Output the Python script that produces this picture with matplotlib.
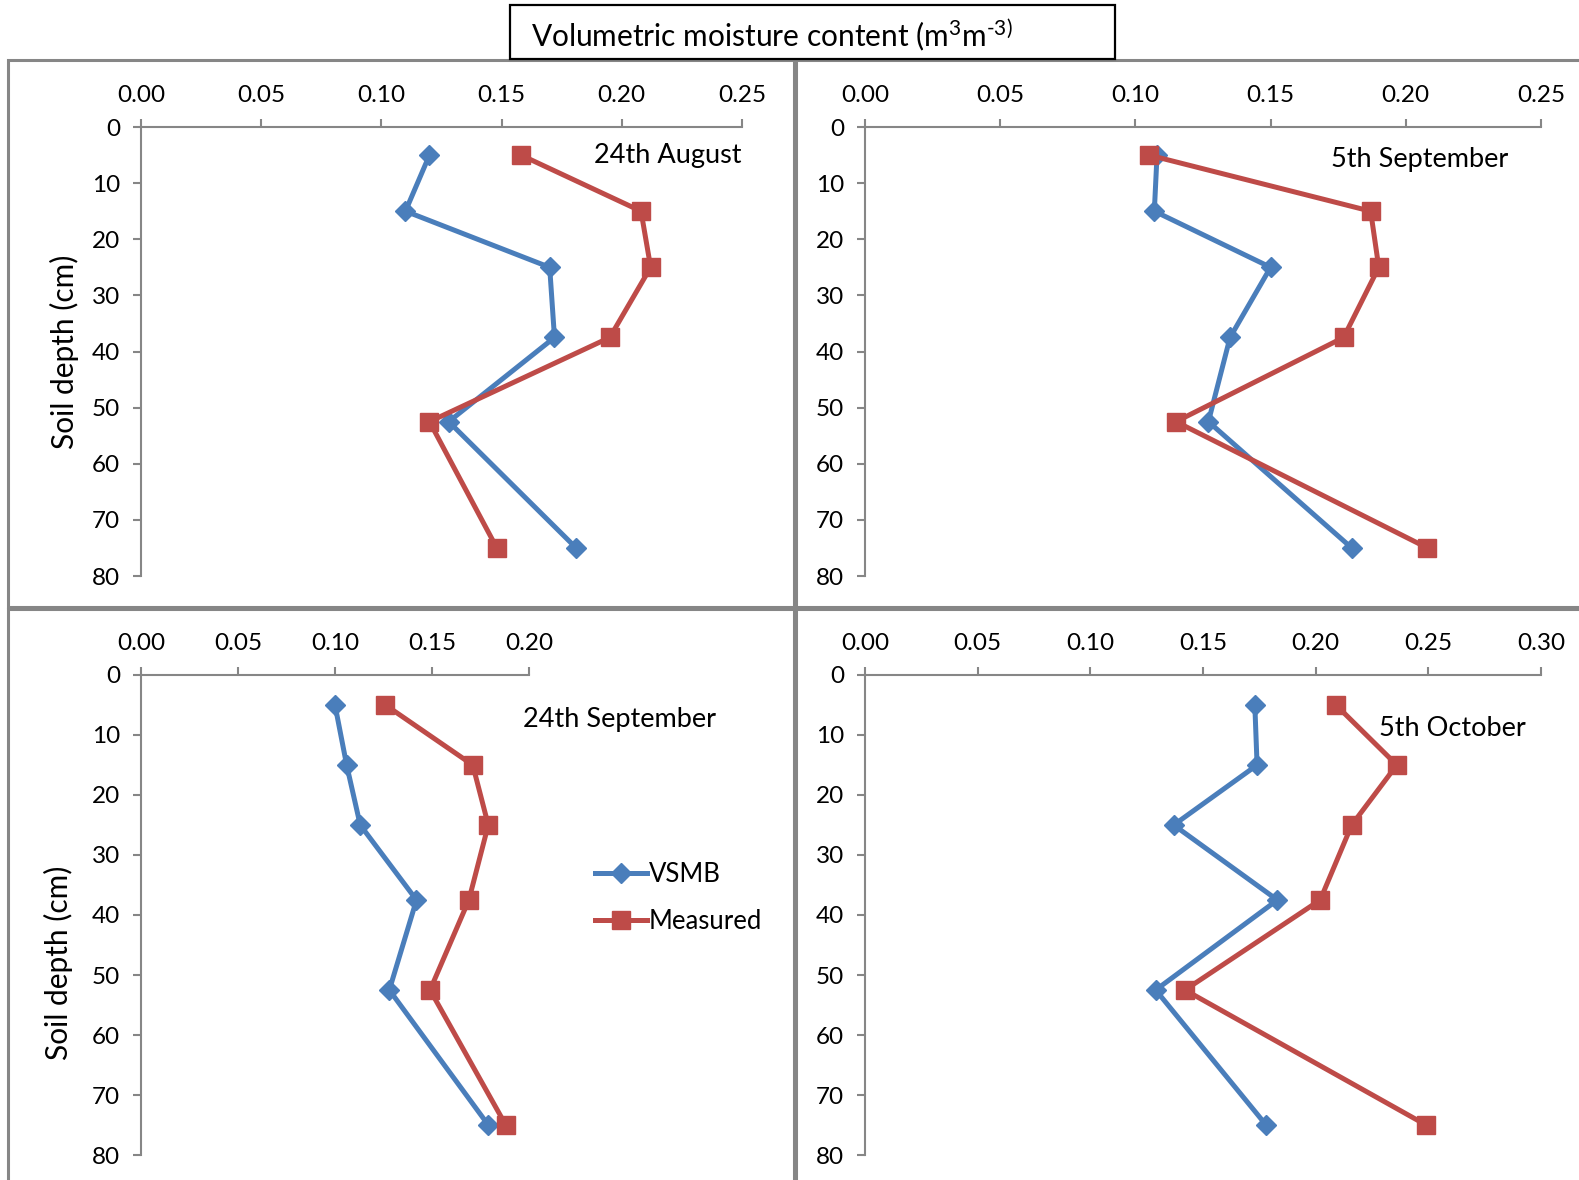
import matplotlib.pyplot as plt
from matplotlib.patches import Rectangle

plt.rcParams['font.family'] = ['Lato', 'DejaVu Sans']
plt.rcParams['mathtext.fontset'] = 'custom'
plt.rcParams['mathtext.rm'] = 'Lato'
plt.rcParams['mathtext.it'] = 'Lato:italic'

# soil depths (cm) shared by all dates
depth = [5, 15, 25, 37.5, 52.5, 75]

dates = ['24th August', '5th September', '24th September', '5th October']
vsmb_aug24 = [0.120, 0.110, 0.170, 0.172, 0.128, 0.181]
meas_aug24 = [0.158, 0.208, 0.212, 0.195, 0.120, 0.148]
vsmb_sep05 = [0.108, 0.107, 0.150, 0.135, 0.127, 0.180]
meas_sep05 = [0.105, 0.187, 0.190, 0.177, 0.115, 0.208]
vsmb_sep24 = [0.100, 0.106, 0.113, 0.142, 0.128, 0.179]
meas_sep24 = [0.126, 0.171, 0.179, 0.169, 0.149, 0.188]
vsmb_oct05 = [0.173, 0.174, 0.137, 0.183, 0.129, 0.178]
meas_oct05 = [0.209, 0.236, 0.216, 0.202, 0.142, 0.249]

xmax = [0.25, 0.25, 0.20, 0.30]
xticks = [[0, .05, .1, .15, .2, .25], [0, .05, .1, .15, .2, .25],
          [0, .05, .1, .15, .2], [0, .05, .1, .15, .2, .25, .3]]

blue = '#4A7EBB'
red = '#BE4B48'
grey = '#868686'

W, H = 1579, 1180
fig = plt.figure(figsize=(W / 100, H / 100), dpi=100)

def px_rect(x0, y0, x1, y1):
    # pixel box (top-left origin) -> figure fraction [l, b, w, h]
    return [x0 / W, 1 - y1 / H, (x1 - x0) / W, (y1 - y0) / H]

# panel frames
for (x0, y0, x1, y1) in [(8, 60, 794, 607), (796, 60, 1585, 607),
                         (8, 609, 794, 1186), (796, 609, 1585, 1186)]:
    l, b, w, h = px_rect(x0, y0, x1, y1)
    fig.patches.append(Rectangle((l, b), w, h, transform=fig.transFigure,
                                 fill=False, ec=grey, lw=2.2))

# title box
l, b, w, h = px_rect(510, 5, 1115, 59)
fig.patches.append(Rectangle((l, b), w, h, transform=fig.transFigure,
                             fill=False, ec='black', lw=1.6, zorder=5))
fig.text(l + 0.013, b + h / 2 - 0.002, 'Volumetric moisture content (m$^{3}$m$^{\\text{-}3)}$',
         fontsize=21.5, va='center', ha='left')

boxes = [(141, 127, 742, 576), (865, 127, 1541, 576),
         (141, 675, 529, 1155), (865, 675, 1541, 1155)]
series = [(vsmb_aug24, meas_aug24), (vsmb_sep05, meas_sep05),
          (vsmb_sep24, meas_sep24), (vsmb_oct05, meas_oct05)]
label_pos = [(742, 155, 'right'), (1508, 159, 'right'),
             (716, 720, 'right'), (1526, 729, 'right')]

axes = []
for i in range(4):
    ax = fig.add_axes(px_rect(*boxes[i]))
    v, m = series[i]
    ax.plot(v, depth, color=blue, lw=3.6, marker='D', ms=10, label='VSMB')
    ax.plot(m, depth, color=red, lw=3.6, marker='s', ms=13, label='Measured')
    ax.set_xlim(0, xmax[i])
    ax.set_ylim(80, 0)
    ax.set_xticks(xticks[i])
    ax.set_xticklabels(['%.2f' % t for t in xticks[i]])
    ax.set_yticks(range(0, 81, 10))
    ax.xaxis.tick_top()
    for s in ['right', 'bottom']:
        ax.spines[s].set_visible(False)
    for s in ['top', 'left']:
        ax.spines[s].set_color(grey)
        ax.spines[s].set_linewidth(1.5)
    ax.tick_params(axis='both', direction='out', length=6, width=1.5,
                   color=grey, labelsize=17.5)
    ax.tick_params(axis='x', pad=9)
    ax.tick_params(axis='y', pad=9)
    ax.patch.set_alpha(0)
    for c in ax.lines:
        c.set_clip_on(False)
    x, y, ha = label_pos[i]
    fig.text(x / W, 1 - y / H, dates[i], fontsize=19.5, ha=ha, va='center')
    axes.append(ax)

axes[0].set_ylabel('Soil depth (cm)', fontsize=21.5, labelpad=9)
axes[2].set_ylabel('Soil depth (cm)', fontsize=21.5)
axes[2].yaxis.set_label_coords(-0.175, 0.40)

h, lab = axes[2].get_legend_handles_labels()
fig.legend(h, lab, loc='upper left', bbox_to_anchor=(572 / W, 1 - 839 / H),
           frameon=False, fontsize=18.5, handlelength=2.0, handletextpad=0.1,
           labelspacing=0.85)

fig.savefig('out.png', dpi=100)
